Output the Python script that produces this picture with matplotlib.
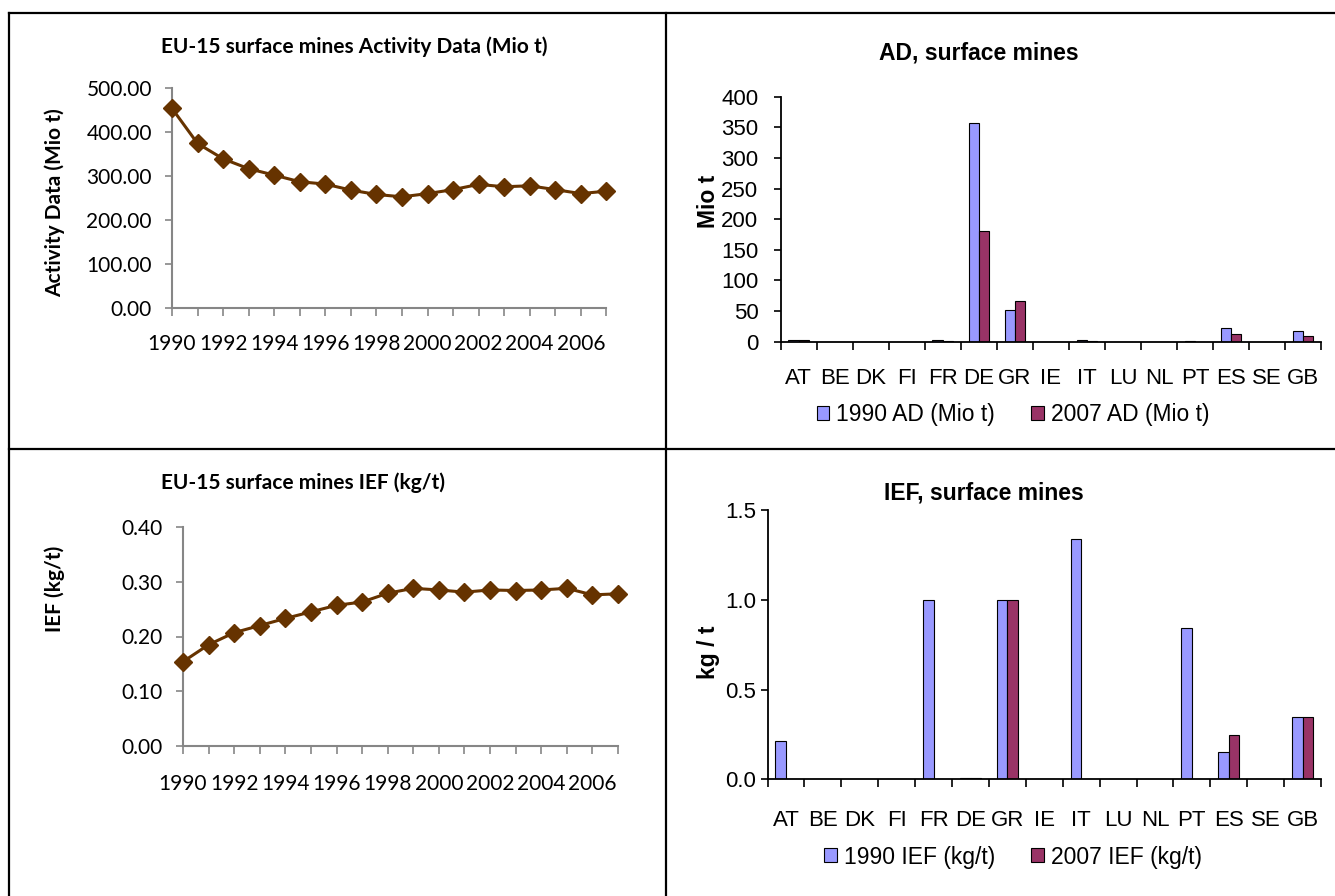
import matplotlib
matplotlib.use("Agg")
import matplotlib.pyplot as plt
from matplotlib.lines import Line2D
from matplotlib.patches import Patch
import numpy as np

# ---- data ----
years = list(range(1990, 2008))
ad_eu15 = [453.6, 374.0, 339.0, 316.6, 302.0, 287.0, 281.6, 268.0, 258.0,
           252.7, 260.0, 269.0, 281.0, 275.5, 277.8, 269.0, 260.0, 265.6]
ief_eu15 = [0.154, 0.185, 0.207, 0.220, 0.233, 0.245, 0.257, 0.263, 0.279,
            0.288, 0.285, 0.281, 0.285, 0.284, 0.285, 0.288, 0.276, 0.278]

countries = ["AT", "BE", "DK", "FI", "FR", "DE", "GR", "IE", "IT", "LU",
             "NL", "PT", "ES", "SE", "GB"]
ad_1990 = [2.5, 0, 0, 0, 3.0, 357.6, 51.7, 0, 2.5, 0, 0, 0.8, 22.9, 0, 17.4]
ad_2007 = [2.0, 0, 0, 0, 0.5, 181.0, 66.4, 0, 0.5, 0, 0, 0, 12.5, 0, 9.3]
ief_1990 = [0.213, 0, 0, 0, 1.0, 0.01, 1.0, 0, 1.337, 0, 0, 0.841, 0.152, 0, 0.347]
ief_2007 = [0, 0, 0, 0, 0, 0.01, 1.0, 0, 0, 0, 0, 0, 0.245, 0, 0.347]

W, H = 1335, 896
BROWN = "#663300"
GREY = "#868686"
C1990 = "#9999FF"
C2007 = "#993366"
LEFT_FONT = ["Lato", "DejaVu Sans"]
RIGHT_FONT = ["Liberation Sans", "DejaVu Sans"]
LFS = 15      # left panels text size
RFS = 16      # right panels tick size
RTS = 16.5    # right panels titles / legend

fig = plt.figure(figsize=(W / 100, H / 100), dpi=100)


def add_px_axes(left, right, top, bottom):
    return fig.add_axes([left / W, 1 - bottom / H, (right - left) / W, (bottom - top) / H])


def fx(x):
    return x / W


def fy(y):
    return 1 - y / H


# ---- frame lines ----
for xs, ys in [((8.5, 8.5), (12.7, 896)), ((8.5, 1335), (12.7, 12.7)),
               ((665.7, 665.7), (12.7, 896)), ((8.5, 1335), (449, 449))]:
    fig.add_artist(Line2D([fx(x) for x in xs], [fy(y) for y in ys],
                          color="black", lw=1.6, transform=fig.transFigure))


def line_panel(ax, values, ylim, yticks, ylabel_pad, xlabel_pad):
    ax.plot(years, values, color=BROWN, lw=2.2, marker="D", ms=9.5,
            markerfacecolor=BROWN, markeredgecolor=BROWN, clip_on=False, zorder=3)
    ax.set_xlim(1990, 2007)
    ax.set_ylim(*ylim)
    ax.set_yticks(yticks)
    ax.set_yticklabels([f"{v:.2f}" for v in yticks], fontsize=LFS, family=LEFT_FONT)
    ax.set_xticks(years)
    ax.set_xticklabels([str(y) if (y - 1990) % 2 == 0 and y < 2007 else "" for y in years],
                       fontsize=LFS, family=LEFT_FONT)
    for s in ["top", "right"]:
        ax.spines[s].set_visible(False)
    for s in ["left", "bottom"]:
        ax.spines[s].set_color(GREY)
        ax.spines[s].set_linewidth(1.5)
    ax.tick_params(axis="y", direction="out", length=5, color=GREY, width=1.2, pad=ylabel_pad)
    ax.tick_params(axis="x", direction="out", length=6, color=GREY, width=1.2, pad=xlabel_pad)


ax1 = add_px_axes(172, 606.4, 88, 308)
line_panel(ax1, ad_eu15, (0, 500), [0, 100, 200, 300, 400, 500], 9.5, 12.5)
fig.text(fx(161), fy(47), "EU-15 surface mines Activity Data (Mio t)", ha="left", va="center",
         fontsize=LFS, fontweight="bold", family=LEFT_FONT)
fig.text(fx(55), fy(203), "Activity Data (Mio t)", rotation=90, ha="center", va="center",
         fontsize=LFS, fontweight="bold", family=LEFT_FONT)

ax3 = add_px_axes(183, 618, 527, 746)
line_panel(ax3, ief_eu15, (0, 0.4), [0, 0.1, 0.2, 0.3, 0.4], 10, 14.5)
fig.text(fx(161), fy(483), "EU-15 surface mines IEF (kg/t)", ha="left", va="center",
         fontsize=LFS, fontweight="bold", family=LEFT_FONT)
fig.text(fx(55), fy(589), "IEF (kg/t)", rotation=90, ha="center", va="center",
         fontsize=LFS, fontweight="bold", family=LEFT_FONT)


def bar_panel(ax, v1990, v2007, ylim, yticks, fmt, ypad, xpad, labels, legend_y):
    x = np.arange(len(countries))
    bw = 0.286
    ax.bar(x - bw / 2, v1990, bw, color=C1990, edgecolor="black", linewidth=0.8)
    ax.bar(x + bw / 2, v2007, bw, color=C2007, edgecolor="black", linewidth=0.8)
    ax.set_xlim(-0.5, len(countries) - 0.5)
    ax.set_ylim(*ylim)
    ax.set_yticks(yticks)
    ax.set_yticklabels([fmt.format(v) for v in yticks], fontsize=RFS, family=RIGHT_FONT)
    ax.set_xticks(np.arange(-0.5, len(countries), 1.0))
    ax.set_xticklabels([])
    ax.set_xticks(x, minor=True)
    ax.set_xticklabels(countries, minor=True, fontsize=RFS, family=RIGHT_FONT)
    for s in ["top", "right"]:
        ax.spines[s].set_visible(False)
    for s in ["left", "bottom"]:
        ax.spines[s].set_linewidth(1.3)
    ax.tick_params(axis="y", direction="out", length=5, width=1.2, pad=ypad)
    ax.tick_params(axis="x", which="major", direction="out", length=6, width=1.2)
    ax.tick_params(axis="x", which="minor", length=0, pad=xpad)
    handles = [Patch(facecolor=C1990, edgecolor="black", linewidth=0.8),
               Patch(facecolor=C2007, edgecolor="black", linewidth=0.8)]
    fig.legend(handles, labels, loc="center", bbox_to_anchor=(fx(1013), fy(legend_y)),
               ncol=2, frameon=False, handlelength=0.55, handleheight=0.55,
               handletextpad=0.3, columnspacing=1.6,
               prop={"family": RIGHT_FONT, "size": RTS})


ax2 = add_px_axes(780.7, 1321, 96.7, 341.7)
bar_panel(ax2, ad_1990, ad_2007, (0, 400), list(range(0, 401, 50)), "{:.0f}", 11, 19,
          ["1990 AD (Mio t)", "2007 AD (Mio t)"], 415)
fig.text(fx(979), fy(53), "AD, surface mines", ha="center", va="center",
         fontsize=RTS, fontweight="bold", family=RIGHT_FONT)
fig.text(fx(708), fy(201), "Mio t", rotation=90, ha="center", va="center",
         fontsize=RTS, fontweight="bold", family=RIGHT_FONT)

ax4 = add_px_axes(767.6, 1321, 510, 779.3)
bar_panel(ax4, ief_1990, ief_2007, (0, 1.5), [0, 0.5, 1.0, 1.5], "{:.1f}", 3.5, 22,
          ["1990 IEF (kg/t)", "2007 IEF (kg/t)"], 857)
fig.text(fx(984), fy(493), "IEF, surface mines", ha="center", va="center",
         fontsize=RTS, fontweight="bold", family=RIGHT_FONT)
fig.text(fx(708), fy(652), "kg / t", rotation=90, ha="center", va="center",
         fontsize=RTS, fontweight="bold", family=RIGHT_FONT)

fig.savefig("out.png", dpi=100)
